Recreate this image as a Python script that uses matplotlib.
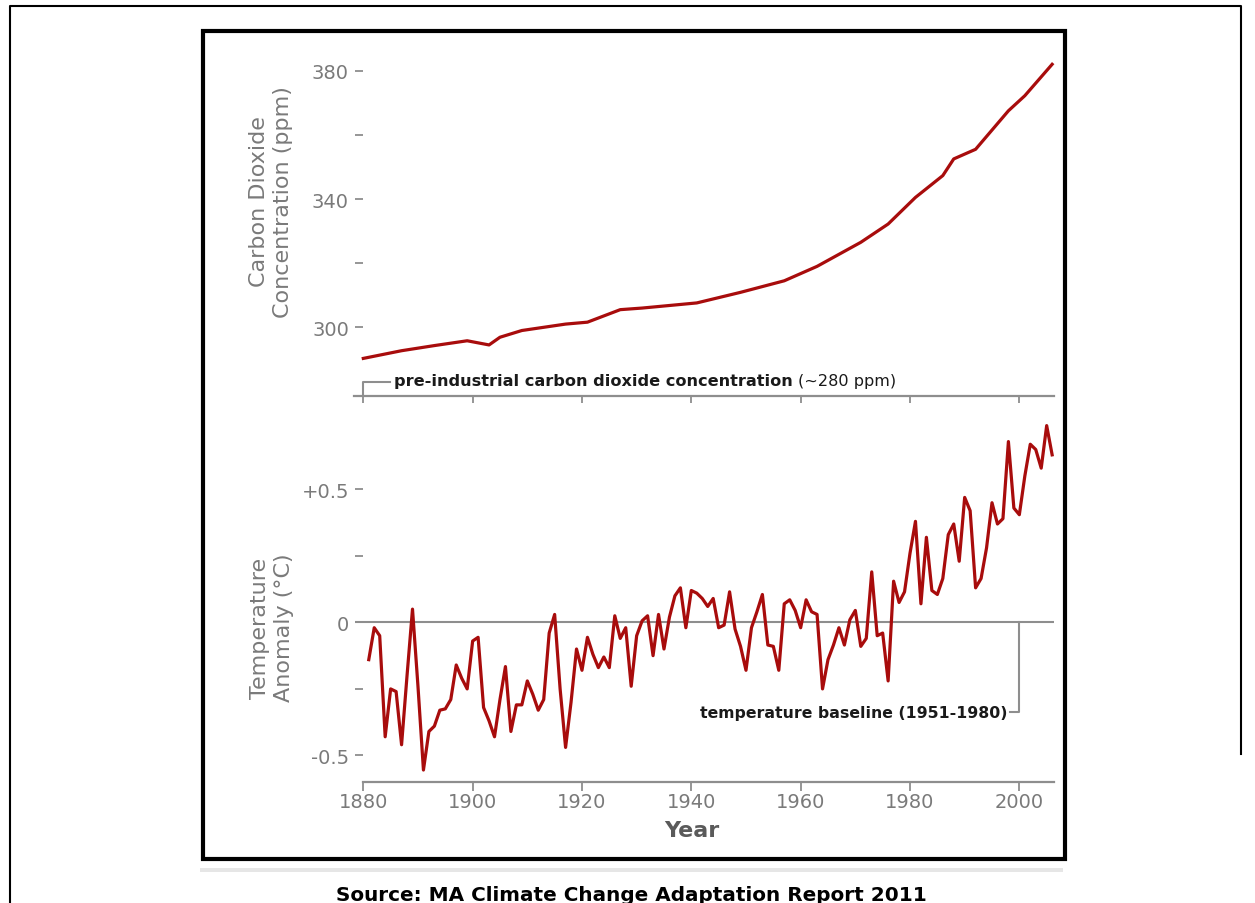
import matplotlib
matplotlib.use("Agg")
import matplotlib.pyplot as plt
from matplotlib import font_manager
from matplotlib.patches import Rectangle
from matplotlib.lines import Line2D

# ---------------- data ----------------
TEMP_YEARS = list(range(1881, 2007))
TEMP_ANOMALY = [
    -0.14, -0.02, -0.05, -0.43, -0.25, -0.26, -0.46, -0.20, 0.05, -0.24,      # 1881-1890
    -0.555, -0.41, -0.39, -0.33, -0.325, -0.29, -0.16, -0.21, -0.25, -0.07,   # 1891-1900
    -0.056, -0.32, -0.37, -0.43, -0.29, -0.166, -0.41, -0.31, -0.31, -0.22,   # 1901-1910
    -0.27, -0.33, -0.29, -0.04, 0.03, -0.25, -0.47, -0.30, -0.10, -0.18,      # 1911-1920
    -0.056, -0.12, -0.17, -0.13, -0.17, 0.025, -0.06, -0.02, -0.24, -0.05,    # 1921-1930
    0.006, 0.025, -0.125, 0.03, -0.10, 0.02, 0.10, 0.13, -0.02, 0.12,         # 1931-1940
    0.11, 0.09, 0.06, 0.09, -0.02, -0.01, 0.115, -0.025, -0.09, -0.18,        # 1941-1950
    -0.02, 0.04, 0.105, -0.085, -0.09, -0.18, 0.07, 0.085, 0.045, -0.02,      # 1951-1960
    0.085, 0.04, 0.03, -0.25, -0.14, -0.085, -0.02, -0.085, 0.01, 0.045,      # 1961-1970
    -0.09, -0.06, 0.19, -0.05, -0.04, -0.22, 0.155, 0.075, 0.115, 0.26,       # 1971-1980
    0.38, 0.07, 0.32, 0.12, 0.105, 0.165, 0.33, 0.37, 0.23, 0.47,             # 1981-1990
    0.42, 0.13, 0.165, 0.28, 0.45, 0.37, 0.39, 0.68, 0.43, 0.405,             # 1991-2000
    0.55, 0.67, 0.65, 0.58, 0.74, 0.63,                                       # 2001-2006
]

CO2_YEARS = [1880, 1887, 1893, 1899, 1903, 1905, 1909, 1917, 1921, 1927, 1931,
             1941, 1949, 1957, 1963, 1971, 1976, 1981, 1986, 1988, 1992, 1998,
             2001, 2006]
CO2_PPM = [290.3, 292.7, 294.3, 295.8, 294.5, 296.9, 299.0, 301.0, 301.6, 305.5,
           306.0, 307.6, 310.9, 314.5, 319.0, 326.5, 332.2, 340.5, 347.3, 352.5,
           355.5, 367.5, 372.2, 382.0]

X_TICKS = [1880, 1900, 1920, 1940, 1960, 1980, 2000]
X_TICK_LABELS = ["1880", "1900", "1920", "1940", "1960", "1980", "2000"]
CO2_TICKS = [300, 320, 340, 360, 380]
CO2_TICK_LABELS = ["300", "", "340", "", "380"]
TEMP_TICKS = [-0.5, -0.25, 0, 0.25, 0.5]
TEMP_TICK_LABELS = ["-0.5", "", "0", "", "+0.5"]

# ---------------- styling ----------------
W, H = 1255, 904
RED = "#a80c0c"
AXGRAY = "#8e8e8e"
TXTGRAY = "#7a7a7a"

names = {f.name for f in font_manager.fontManager.ttflist}
TICK_FONT = "Liberation Sans Narrow" if "Liberation Sans Narrow" in names else "DejaVu Sans"
TICK_SIZE = 15 if TICK_FONT != "DejaVu Sans" else 14
plt.rcParams["font.family"] = ["DejaVu Sans"]

fig = plt.figure(figsize=(W / 100, H / 100), dpi=100)


def fx(px):
    return px / W


def fy(py):
    return 1 - py / H


XMIN, XMAX = 1878, 2007
PXY = 5.467
X1880 = 363.3
left_px = X1880 + (XMIN - 1880) * PXY
right_px = X1880 + (XMAX - 1880) * PXY
wfrac = (right_px - left_px) / W

# temperature axes: y 783 (bottom) .. 400 (top)
ax_t = fig.add_axes([fx(left_px), fy(783), wfrac, (783 - 400) / H])
ax_t.set_ylim(-0.6, 0.84)
# co2 axes: y 397 (bottom) .. 50 (top)
ax_c = fig.add_axes([fx(left_px), fy(397), wfrac, (397 - 50) / H])
ax_c.set_ylim(278.58, 386.77)

for ax in (ax_t, ax_c):
    ax.set_xlim(XMIN, XMAX)
    ax.patch.set_alpha(0)
    for s in ("top", "right"):
        ax.spines[s].set_visible(False)
    ax.spines["left"].set_position(("data", 1880))
    ax.spines["left"].set_color("none")
    ax.spines["bottom"].set_color(AXGRAY)
    ax.spines["bottom"].set_linewidth(1.6)
    ax.tick_params(axis="y", length=5.8, width=1.3, color=AXGRAY,
                   labelcolor=TXTGRAY, pad=4.5)
    ax.set_xticks(X_TICKS)

ax_t.spines["bottom"].set_bounds(1880, 2006.3)
ax_c.spines["bottom"].set_bounds(1878.3, 2006.3)

ax_t.set_xticks(X_TICKS, X_TICK_LABELS, fontfamily=TICK_FONT, fontsize=TICK_SIZE)
ax_t.tick_params(axis="x", length=6.5, width=1.3, color=AXGRAY,
                 labelcolor=TXTGRAY, pad=1)
ax_c.tick_params(axis="x", length=5, width=1.3, color=AXGRAY, labelbottom=False)

ax_c.set_yticks(CO2_TICKS, CO2_TICK_LABELS, fontfamily=TICK_FONT, fontsize=TICK_SIZE)
ax_t.set_yticks(TEMP_TICKS, TEMP_TICK_LABELS, fontfamily=TICK_FONT, fontsize=TICK_SIZE)

# series
ax_c.plot(CO2_YEARS, CO2_PPM, color=RED, lw=2.3, solid_joinstyle="round", zorder=3)
ax_t.plot(TEMP_YEARS, TEMP_ANOMALY, color=RED, lw=2.3, solid_joinstyle="round",
          zorder=3)

# baseline
ax_t.hlines(0, 1878.4, 2006.3, color=AXGRAY, lw=1.5, zorder=1)
ax_t.plot([2000, 2000, 1998.3], [0, -0.338, -0.338], color=AXGRAY, lw=1.5,
          clip_on=False, zorder=1)
ax_t.text(1997.9, -0.338, "temperature baseline (1951-1980)", ha="right",
          va="center", fontsize=11.3, fontweight="bold", color="#1a1a1a")

# pre-industrial annotation
ax_c.plot([1880, 1880, 1884.9], [278.58, 283.1, 283.1], color=AXGRAY, lw=1.5,
          clip_on=False)
t1 = ax_c.text(1885.6, 283.3, "pre-industrial carbon dioxide concentration",
               ha="left", va="center", fontsize=11.6, fontweight="bold",
               color="#1a1a1a")
renderer = fig.canvas.get_renderer()
bb = t1.get_window_extent(renderer)
fig.text((bb.x1 + 5) / fig.bbox.width, (bb.y0 + bb.y1) / 2 / fig.bbox.height,
         "(~280 ppm)", ha="left", va="center", fontsize=11.6, color="#1a1a1a")

# axis labels
fig.text(fx(271), fy(202), "Carbon Dioxide\nConcentration (ppm)", rotation=90,
         ha="center", va="center", multialignment="center", fontsize=16,
         color=TXTGRAY, linespacing=1.25)
fig.text(fx(272), fy(628), "Temperature\nAnomaly (°C)", rotation=90,
         ha="center", va="center", multialignment="center", fontsize=16,
         color=TXTGRAY, linespacing=1.25)
fig.text(fx(692), fy(831), "Year", ha="center", va="center", fontsize=16,
         fontweight="bold", color="#5a5a5a")

# frames
fig.add_artist(Rectangle((fx(202.5), fy(859.5)), fx(1064.5) - fx(202.5),
                         fy(31.5) - fy(859.5), transform=fig.transFigure,
                         fill=False, lw=3.0, edgecolor="black"))
fig.add_artist(Rectangle((fx(200), fy(873)), fx(1063) - fx(200), 4 / H,
                         transform=fig.transFigure, facecolor="#e6e6e6",
                         edgecolor="none"))
fig.add_artist(Line2D([fx(10), fx(10), fx(1241), fx(1241)],
                      [fy(905), fy(7), fy(7), fy(755)],
                      transform=fig.transFigure, color="black", lw=1.5))

fig.text(fx(631), fy(901), "Source: MA Climate Change Adaptation Report 2011",
         ha="center", va="baseline", fontsize=14.4, fontweight="bold",
         color="black")

fig.savefig("out.png", dpi=100)
